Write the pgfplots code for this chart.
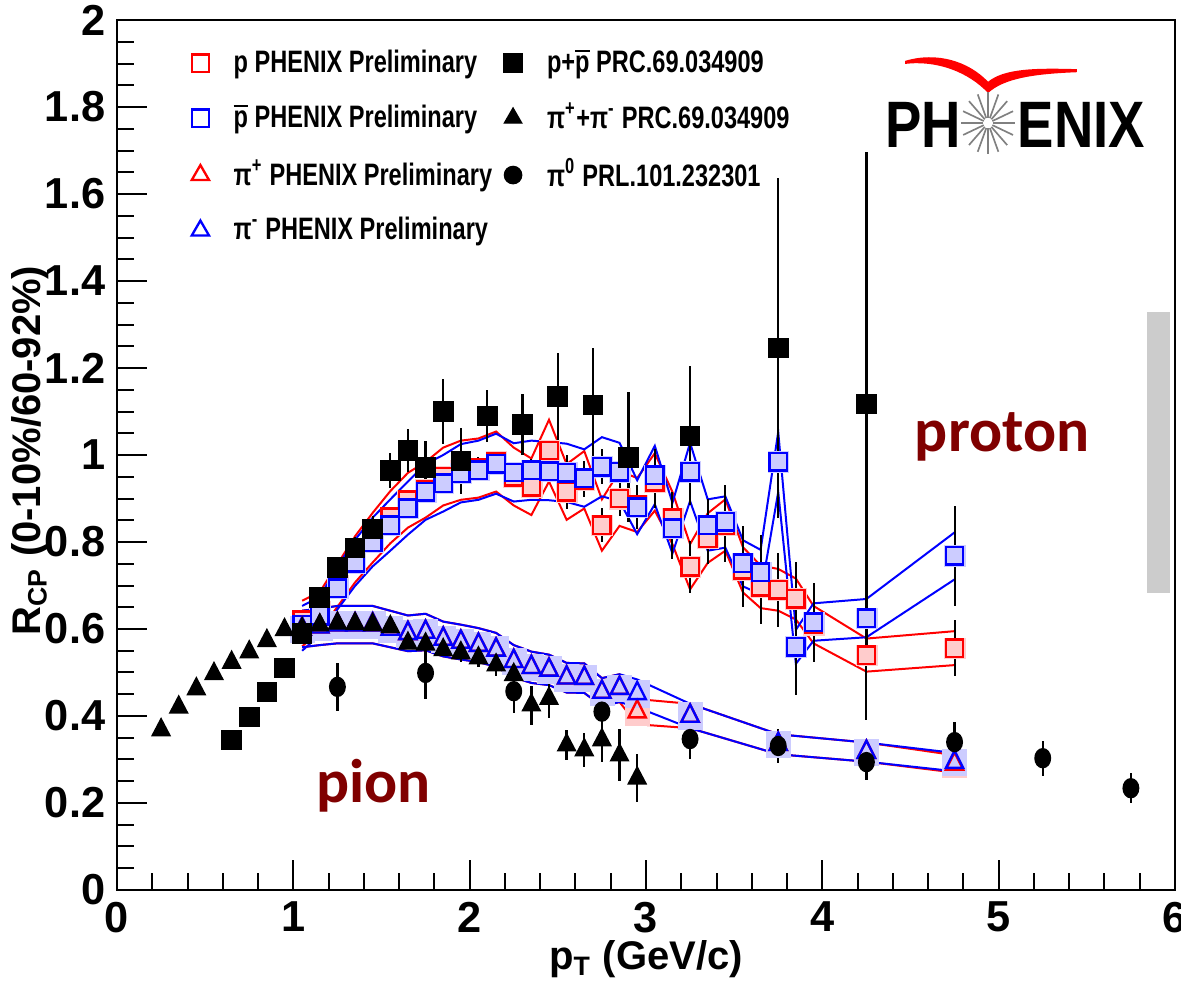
\documentclass[border=0pt]{standalone}
\usepackage{fontspec}
\setmainfont{Liberation Sans}
\newfontfamily\legfont{Liberation Sans}[FakeStretch=0.76]
\newfontfamily\logofont{Liberation Sans}[FakeStretch=0.83]
\newfontfamily\carlito{Carlito}
\usepackage{pgfplots}
\pgfplotsset{compat=1.18}
\usepackage{pgfplotstable}
\definecolor{darkred}{RGB}{128,0,0}
\definecolor{palered}{RGB}{255,204,204}
\definecolor{paleblue}{RGB}{204,204,255}
\definecolor{sysgray}{RGB}{204,204,204}

% p PHENIX Preliminary
\pgfplotstableread{
x y e hi lo
1.05 0.620 0.010 0.665 0.560
1.15 0.640 0.010 0.685 0.595
1.25 0.700 0.010 0.749 0.651
1.35 0.760 0.010 0.813 0.707
1.45 0.810 0.010 0.867 0.753
1.55 0.857 0.015 0.917 0.797
1.65 0.896 0.015 0.959 0.833
1.75 0.920 0.015 0.984 0.856
1.85 0.950 0.015 1.017 0.884
1.95 0.965 0.015 1.033 0.897
2.05 0.970 0.025 1.038 0.902
2.15 0.985 0.025 1.054 0.916
2.25 0.950 0.025 1.017 0.884
2.35 0.927 0.025 0.992 0.862
2.45 1.010 0.025 1.081 0.939
2.55 0.915 0.040 0.979 0.851
2.65 0.943 0.040 1.009 0.877
2.75 0.839 0.040 0.898 0.780
2.85 0.900 0.040 0.963 0.837
2.95 0.885 0.040 0.947 0.823
3.05 0.938 0.060 1.004 0.872
3.15 0.855 0.060 0.915 0.795
3.25 0.743 0.060 0.795 0.691
3.35 0.809 0.060 0.866 0.752
3.45 0.839 0.085 0.898 0.780
3.55 0.736 0.085 0.788 0.684
3.65 0.697 0.085 0.746 0.648
3.75 0.690 0.085 0.738 0.642
3.85 0.669 0.085 0.716 0.622
3.95 0.610 0.085 0.653 0.567
4.25 0.540 0.150 0.578 0.502
4.75 0.556 0.065 0.595 0.517
}\tabP

% pbar PHENIX Preliminary
\pgfplotstableread{
x y e hi lo
1.05 0.610 0.010 0.653 0.550
1.15 0.630 0.010 0.674 0.586
1.25 0.694 0.010 0.743 0.645
1.35 0.752 0.010 0.805 0.699
1.45 0.800 0.010 0.856 0.744
1.55 0.839 0.015 0.898 0.780
1.65 0.878 0.015 0.939 0.817
1.75 0.915 0.015 0.979 0.851
1.85 0.935 0.015 1.000 0.870
1.95 0.958 0.015 1.025 0.891
2.05 0.965 0.025 1.033 0.897
2.15 0.980 0.025 1.049 0.911
2.25 0.960 0.025 1.027 0.893
2.35 0.965 0.025 1.033 0.897
2.45 0.963 0.025 1.030 0.896
2.55 0.959 0.040 1.026 0.892
2.65 0.947 0.040 1.013 0.881
2.75 0.973 0.040 1.041 0.905
2.85 0.961 0.040 1.028 0.894
2.95 0.880 0.050 0.942 0.818
3.05 0.954 0.060 1.021 0.887
3.15 0.832 0.070 0.890 0.774
3.25 0.961 0.060 1.028 0.894
3.35 0.839 0.060 0.898 0.780
3.45 0.846 0.085 0.905 0.787
3.55 0.751 0.085 0.804 0.698
3.65 0.731 0.085 0.782 0.680
3.75 0.984 0.085 1.053 0.915
3.85 0.559 0.110 0.598 0.520
3.95 0.616 0.090 0.659 0.573
4.25 0.625 0.150 0.669 0.581
4.75 0.768 0.115 0.822 0.714
}\tabPbar

% pi+ PHENIX Preliminary
\pgfplotstableread{
x y hi lo
1.05 0.600 0.642 0.558
1.15 0.605 0.647 0.563
1.25 0.610 0.653 0.567
1.35 0.610 0.653 0.567
1.45 0.610 0.653 0.567
1.55 0.600 0.642 0.558
1.65 0.590 0.631 0.549
1.75 0.593 0.635 0.551
1.85 0.577 0.617 0.537
1.95 0.570 0.610 0.530
2.05 0.563 0.602 0.524
2.15 0.552 0.591 0.513
2.25 0.526 0.563 0.489
2.35 0.512 0.548 0.476
2.45 0.506 0.541 0.471
2.55 0.488 0.522 0.454
2.65 0.487 0.521 0.453
2.75 0.455 0.487 0.423
2.85 0.464 0.496 0.432
2.95 0.410 0.439 0.381
3.25 0.400 0.428 0.372
3.75 0.335 0.358 0.312
4.25 0.317 0.339 0.295
4.75 0.290 0.310 0.270
}\tabPip

% pi- PHENIX Preliminary
\pgfplotstableread{
x y hi lo
1.05 0.600 0.642 0.558
1.15 0.605 0.647 0.563
1.25 0.610 0.653 0.567
1.35 0.610 0.653 0.567
1.45 0.610 0.653 0.567
1.55 0.600 0.642 0.558
1.65 0.590 0.631 0.549
1.75 0.593 0.635 0.551
1.85 0.577 0.617 0.537
1.95 0.570 0.610 0.530
2.05 0.563 0.602 0.524
2.15 0.552 0.591 0.513
2.25 0.526 0.563 0.489
2.35 0.512 0.548 0.476
2.45 0.506 0.541 0.471
2.55 0.488 0.522 0.454
2.65 0.487 0.521 0.453
2.75 0.455 0.487 0.423
2.85 0.464 0.496 0.432
2.95 0.452 0.484 0.420
3.25 0.400 0.428 0.372
3.75 0.335 0.358 0.312
4.25 0.317 0.339 0.295
4.75 0.294 0.315 0.273
}\tabPim

% p+pbar PRC.69.034909
\pgfplotstableread{
x y e
0.65 0.345 0
0.75 0.398 0
0.85 0.455 0
0.95 0.510 0
1.05 0.590 0.010
1.15 0.672 0.015
1.25 0.742 0.020
1.35 0.786 0.025
1.45 0.830 0.030
1.55 0.964 0.040
1.65 1.010 0.050
1.75 0.972 0.060
1.85 1.100 0.075
1.95 0.986 0.075
2.10 1.090 0.060
2.30 1.070 0.070
2.50 1.135 0.100
2.70 1.115 0.130
2.90 0.995 0.150
3.25 1.044 0.160
3.75 1.246 0.390
4.25 1.117 0.580
}\tabPPbar

% pi+ + pi- PRC.69.034909
\pgfplotstableread{
x y e
0.25 0.368 0
0.35 0.420 0
0.45 0.462 0
0.55 0.497 0
0.65 0.523 0
0.75 0.547 0
0.85 0.573 0
0.95 0.598 0
1.05 0.600 0.005
1.15 0.609 0.005
1.25 0.613 0.005
1.35 0.612 0.005
1.45 0.610 0.005
1.55 0.605 0.008
1.65 0.567 0.010
1.75 0.565 0.015
1.85 0.552 0.015
1.95 0.545 0.020
2.05 0.533 0.020
2.15 0.517 0.025
2.25 0.495 0.030
2.35 0.425 0.045
2.45 0.440 0.045
2.55 0.333 0.035
2.65 0.322 0.040
2.75 0.345 0.050
2.85 0.310 0.060
2.95 0.257 0.055
}\tabPipm

% pi0 PRL.101.232301
\pgfplotstableread{
x y e
1.25 0.467 0.055
1.75 0.499 0.060
2.25 0.457 0.050
2.75 0.410 0.050
3.25 0.347 0.045
3.75 0.331 0.040
4.25 0.294 0.040
4.75 0.340 0.046
5.25 0.303 0.040
5.75 0.234 0.035
}\tabPiz

\begin{document}
\begin{tikzpicture}
\path[use as bounding box] (-35.1pt,-27.9pt) rectangle (319.2pt,267pt);
\begin{axis}[
  scale only axis, width=317.4pt, height=261pt,
  xmin=0, xmax=6, ymin=0, ymax=2,
  clip=false,
  axis line style={line width=0.6pt},
  tick align=inside, tick pos=left,
  xtick={0,1,2,3,4,5,6},
  ytick={0,0.2,0.4,0.6,0.8,1,1.2,1.4,1.6,1.8,2},
  minor x tick num=4, minor y tick num=3,
  major tick length=9pt, minor tick length=5pt,
  tick style={black, line width=0.6pt},
  /pgf/number format/assume math mode=true,
  ticklabel style={font=\fontsize{13}{13}\selectfont\bfseries},
  yticklabel style={/pgf/number format/fixed, /pgf/number format/precision=1},
  xlabel={p\textsubscript{T} (GeV/c)},
  ylabel={R\textsubscript{CP} (0-10\%/60-92\%)},
  label style={font=\fontsize{12}{12}\selectfont\bfseries},
  xlabel style={at={(axis description cs:0.5,-0.080)}, anchor=center},
  ylabel style={at={(axis description cs:-0.082,0.505)}, anchor=center},
  legend columns=2,
  legend cell align=left,
  legend style={draw=none, fill=none, inner sep=0pt,
    at={(axis description cs:0.070,0.975)}, anchor=north west,
    font={\fontsize{9.3}{10}\legfont\bfseries},
    row sep=3.6pt,
    /tikz/every odd column/.append style={column sep=5.4pt},
    /tikz/every even column/.append style={column sep=6pt}},
]
% legend
\addlegendimage{only marks, mark=square, red, mark size=2.6pt, line width=0.7pt}
\addlegendentry{\makebox[73pt][l]{p PHENIX Preliminary}}
\addlegendimage{only marks, mark=square*, black, mark size=2.8pt}
\addlegendentry{p+$\overline{\mbox{p}}$ PRC.69.034909}
\addlegendimage{only marks, mark=square, blue, mark size=2.6pt, line width=0.7pt}
\addlegendentry{\makebox[73pt][l]{$\overline{\mbox{p}}$ PHENIX Preliminary}}
\addlegendimage{only marks, mark=triangle*, black, mark size=3pt}
\addlegendentry{π\textsuperscript{+}+π\textsuperscript{-} PRC.69.034909}
\addlegendimage{only marks, mark=triangle, red, mark size=3pt, line width=0.7pt}
\addlegendentry{\makebox[73pt][l]{π\textsuperscript{+} PHENIX Preliminary}}
\addlegendimage{only marks, mark=*, black, mark size=2.6pt}
\addlegendentry{π\textsuperscript{0} PRL.101.232301}
\addlegendimage{only marks, mark=triangle, blue, mark size=3pt, line width=0.7pt}
\addlegendentry{\makebox[73pt][l]{π\textsuperscript{-} PHENIX Preliminary}}

% normalisation box
\fill[sysgray] (axis cs:5.84,0.683) rectangle (axis cs:5.97,1.329);

% systematic boxes
\addplot[forget plot, only marks, palered, mark=square*, mark size=3.1pt, mark options={draw=palered, fill=palered, line width=0.1pt}] table[x=x,y=y]{\tabP};
\addplot[forget plot, only marks, paleblue, mark=square*, mark size=3.1pt, mark options={draw=paleblue, fill=paleblue, line width=0.1pt}] table[x=x,y=y]{\tabPbar};
\addplot[forget plot, only marks, palered, mark=square*, mark size=4pt, mark options={xscale=0.9, draw=palered, fill=palered, line width=0.1pt}] table[x=x,y=y]{\tabPip};
\addplot[forget plot, only marks, paleblue, mark=square*, mark size=4pt, mark options={xscale=0.9, draw=paleblue, fill=paleblue, line width=0.1pt}] table[x=x,y=y]{\tabPim};

% band lines
\addplot[forget plot, red, line width=0.6pt, no marks] table[x=x,y=hi]{\tabP};
\addplot[forget plot, red, line width=0.6pt, no marks] table[x=x,y=lo]{\tabP};
\addplot[forget plot, blue, line width=0.6pt, no marks] table[x=x,y=hi]{\tabPbar};
\addplot[forget plot, blue, line width=0.6pt, no marks] table[x=x,y=lo]{\tabPbar};
\addplot[forget plot, red, line width=0.6pt, no marks] table[x=x,y=hi]{\tabPip};
\addplot[forget plot, red, line width=0.6pt, no marks] table[x=x,y=lo]{\tabPip};
\addplot[forget plot, blue, line width=0.6pt, no marks] table[x=x,y=hi]{\tabPim};
\addplot[forget plot, blue, line width=0.6pt, no marks] table[x=x,y=lo]{\tabPim};

% PHENIX preliminary markers
\addplot[forget plot, only marks, mark=square*, mark size=2.6pt, mark options={draw=red, fill=palered, line width=0.7pt},
  error bars/.cd, y dir=both, y explicit, error mark=none, error bar style={black, line width=0.6pt}]
  table[x=x,y=y,y error=e]{\tabP};
\addplot[forget plot, only marks, mark=square*, mark size=2.6pt, mark options={draw=blue, fill=paleblue, line width=0.7pt},
  error bars/.cd, y dir=both, y explicit, error mark=none, error bar style={black, line width=0.6pt}]
  table[x=x,y=y,y error=e]{\tabPbar};
\addplot[forget plot, only marks, mark=triangle, mark size=3pt, mark options={draw=red, line width=0.7pt, yscale=1.15}] table[x=x,y=y]{\tabPip};
\addplot[forget plot, only marks, mark=triangle, mark size=3pt, mark options={draw=blue, line width=0.7pt, yscale=1.15}] table[x=x,y=y]{\tabPim};

% published data (black)
\addplot[forget plot, only marks, mark=square*, mark size=2.9pt, black,
  error bars/.cd, y dir=both, y explicit, error mark=none, error bar style={black, line width=0.7pt}]
  table[x=x,y=y,y error=e]{\tabPPbar};
\addplot[forget plot, only marks, mark=triangle*, mark size=3.1pt, black, mark options={yscale=1.1},
  error bars/.cd, y dir=both, y explicit, error mark=none, error bar style={black, line width=0.7pt}]
  table[x=x,y=y,y error=e]{\tabPipm};
\addplot[forget plot, only marks, mark=*, mark size=2.6pt, black, mark options={xscale=0.9, yscale=1.1},
  error bars/.cd, y dir=both, y explicit, error mark=none, error bar style={black, line width=0.7pt}]
  table[x=x,y=y,y error=e]{\tabPiz};

% labels
\node[anchor=base, text=darkred, font={\fontsize{18.5}{20}\carlito\bfseries}] at (axis cs:5.02,1.007) {proton};
\node[anchor=base, text=darkred, font={\fontsize{18.5}{20}\carlito\bfseries}] at (axis cs:1.455,0.200) {pion};

% PHENIX logo
\node[anchor=base, inner sep=0pt, font={\fontsize{19.7}{20}\logofont\bfseries}] at (axis cs:4.571,1.706) {PH};
\node[anchor=base, inner sep=0pt, font={\fontsize{19.7}{20}\logofont\bfseries}] at (axis cs:5.47,1.706) {ENIX};
\coordinate (burst) at (axis cs:4.94,1.763);
\fill[red] (axis cs:4.469,1.906) .. controls (axis cs:4.65,1.928) and (axis cs:4.83,1.905) .. (axis cs:4.94,1.858)
  .. controls (axis cs:5.03,1.888) and (axis cs:5.20,1.890) .. (axis cs:5.444,1.887)
  -- (axis cs:5.444,1.880) .. controls (axis cs:5.20,1.876) and (axis cs:5.03,1.866) .. (axis cs:4.94,1.832)
  .. controls (axis cs:4.83,1.880) and (axis cs:4.65,1.908) .. (axis cs:4.469,1.899) -- cycle;
\end{axis}
\begin{scope}[shift={(burst)}, yscale=1.15]
  \foreach \a in {0,22.5,...,337.5} \draw[gray, line width=0.5pt] (\a:1.4pt) -- (\a:8.1pt);
\end{scope}
\end{tikzpicture}
\end{document}
